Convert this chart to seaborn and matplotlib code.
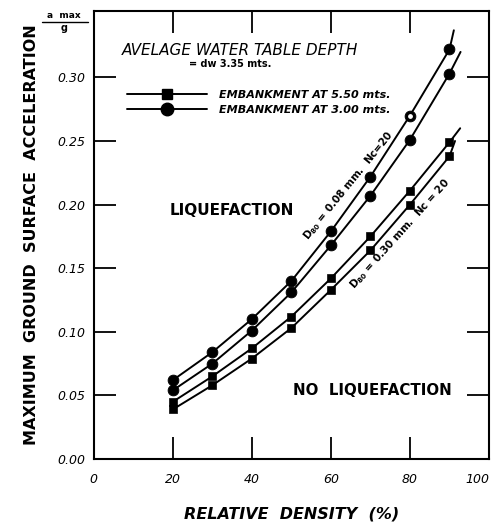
import numpy as np
import pandas as pd
import matplotlib.pyplot as plt
import matplotlib.lines as mlines
import seaborn as sns

# values
density = [20, 30, 40, 50, 60, 70, 80, 90]
fine_550 = [0.062, 0.084, 0.110, 0.140, 0.179, 0.222, 0.270, 0.322]
fine_300 = [0.054, 0.075, 0.101, 0.131, 0.168, 0.207, 0.251, 0.303]
coarse_550 = [0.045, 0.065, 0.087, 0.112, 0.142, 0.175, 0.211, 0.249]
coarse_300 = [0.039, 0.058, 0.079, 0.103, 0.133, 0.164, 0.200, 0.238]

# where each hand drawn curve stops past the last point
end_density = [91.1, 92.8, 92.7, 91.4]
end_accel = [0.337, 0.320, 0.260, 0.250]

curve_names = ["fine_550", "fine_300", "coarse_550", "coarse_300"]
curve_values = [fine_550, fine_300, coarse_550, coarse_300]
curve_marker = ["o", "o", "s", "s"]

rows = []
for name, vals, mk in zip(curve_names, curve_values, curve_marker):
    for d, a in zip(density, vals):
        rows.append({"curve": name, "density": d, "accel": a, "marker": mk})
df = pd.DataFrame(rows)

line_rows = list(rows)
for name, d, a, mk in zip(curve_names, end_density, end_accel, curve_marker):
    line_rows.append({"curve": name, "density": d, "accel": a, "marker": mk})
df_line = pd.DataFrame(line_rows)

sns.set_style("ticks", {"text.color": "black", "axes.labelcolor": "black",
                        "xtick.color": "black", "ytick.color": "black"})
plt.rcParams["font.family"] = ["DejaVu Sans"]

fig = plt.figure(figsize=(4.99, 5.29), dpi=100)
ax = fig.add_axes([0.188, 0.1323, 0.792, 0.8465])

sns.lineplot(data=df_line, x="density", y="accel", units="curve", estimator=None,
             color="black", linewidth=1.4, sort=False, ax=ax, legend=False)

circles = df[df["marker"] == "o"]
squares = df[df["marker"] == "s"]
sns.scatterplot(data=circles, x="density", y="accel", marker="o", s=60,
                color="black", edgecolor="black", ax=ax, legend=False, zorder=3)
sns.scatterplot(data=squares, x="density", y="accel", marker="s", s=36,
                color="black", edgecolor="black", ax=ax, legend=False, zorder=3)
# the one open point on the upper curve
ax.scatter([density[6]], [fine_550[6]], s=22, facecolor="white",
           edgecolor="black", linewidth=1.2, zorder=4)

ax.set_xlim(0, 100)
ax.set_ylim(0, 0.352)
ax.set_xticks([0, 20, 40, 60, 80, 100])
ax.set_xticklabels(["0", "20", "40", "60", "80", "100"], fontstyle="italic", fontsize=9)
ax.get_xticklabels()[-1].set_horizontalalignment("right")
ax.set_yticks([0.0, 0.05, 0.10, 0.15, 0.20, 0.25, 0.30])
ax.set_yticklabels(["0.00", "0.05", "0.10", "0.15", "0.20", "0.25", "0.30"],
                   fontstyle="italic", fontsize=9)
ax.tick_params(axis="both", direction="in", length=16, width=1.3, colors="black",
               top=True, right=True)
ax.tick_params(axis="x", pad=10)
ax.tick_params(axis="y", pad=6)
for s in ax.spines.values():
    s.set_linewidth(1.5)
    s.set_color("black")

ax.set_xlabel("RELATIVE  DENSITY  (%)", fontsize=11.5, fontweight="bold",
              fontstyle="italic", labelpad=15)
ax.set_ylabel("MAXIMUM  GROUND  SURFACE  ACCELERATION", fontsize=11.5,
              fontweight="bold", labelpad=13)

ax.text(-0.075, 0.991, "a  max", transform=ax.transAxes, fontsize=6.5,
        fontweight="bold", ha="center", va="center")
ax.plot([-0.13, -0.015], [0.975, 0.975], transform=ax.transAxes, color="black",
        linewidth=1, clip_on=False)
ax.text(-0.075, 0.962, "g", transform=ax.transAxes, fontsize=7,
        fontweight="bold", ha="center", va="center")

ax.text(0.07, 0.913, "AVELAGE WATER TABLE DEPTH", transform=ax.transAxes,
        fontsize=11, fontstyle="italic", va="center")
ax.text(0.24, 0.882, "= dw 3.35 mts.", transform=ax.transAxes,
        fontsize=7, fontweight="bold", va="center")

h_sq = mlines.Line2D([], [], color="black", marker="s", markersize=7, linewidth=1.4)
h_ci = mlines.Line2D([], [], color="black", marker="o", markersize=9, linewidth=1.4)
ax.legend([h_sq, h_ci], ["EMBANKMENT AT 5.50 mts.", "EMBANKMENT AT 3.00 mts."],
          loc="upper left", bbox_to_anchor=(0.085, 0.825), frameon=False,
          handlelength=7.2, handletextpad=1.0, labelspacing=0.5, borderpad=0,
          borderaxespad=0, prop={"size": 8, "style": "italic", "weight": "bold"})

ax.text(0.193, 0.556, "LIQUEFACTION", transform=ax.transAxes, fontsize=11,
        fontweight="bold", va="center")
ax.text(0.503, 0.154, "NO  LIQUEFACTION", transform=ax.transAxes, fontsize=10.8,
        fontweight="bold", va="center")

ax.text(64.5, 0.215, "$\\mathregular{D_{80}}$ = 0.08 mm.  Nc=20", fontsize=7.5,
        fontweight="bold", rotation=51, rotation_mode="anchor",
        ha="center", va="center")
ax.text(77.5, 0.177, "$\\mathregular{D_{80}}$ = 0.30 mm.  Nc = 20", fontsize=7.5,
        fontweight="bold", rotation=48, rotation_mode="anchor",
        ha="center", va="center")

fig.savefig("out.png", dpi=100)
